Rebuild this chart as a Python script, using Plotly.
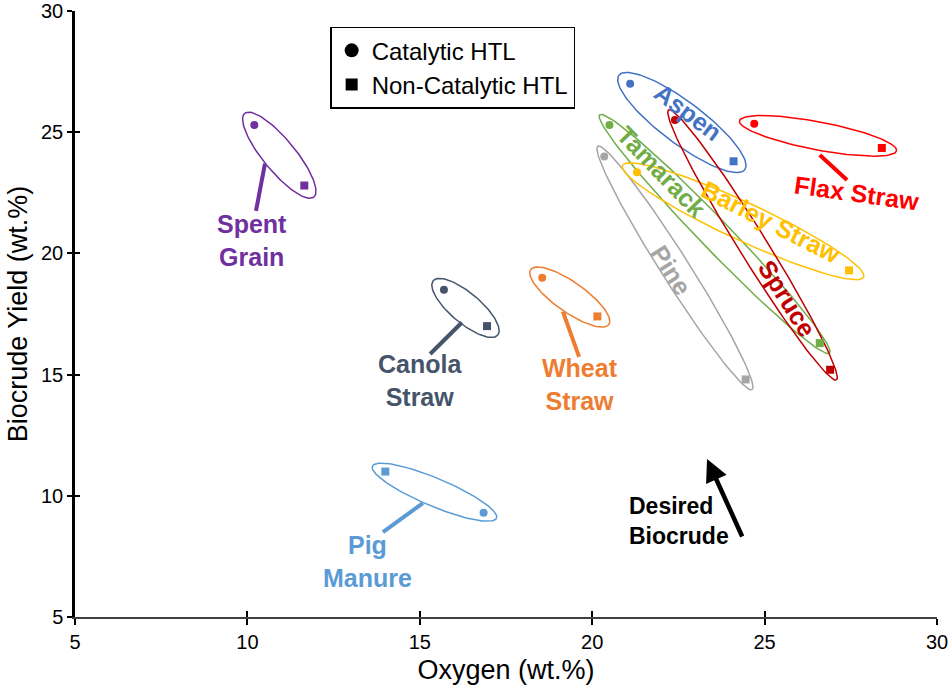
import numpy as np
import plotly.graph_objects as go

# ---------------- data ----------------
feedstocks = ["Spent Grain", "Canola Straw", "Wheat Straw", "Pig Manure", "Aspen",
              "Tamarack", "Pine", "Barley Straw", "Spruce", "Flax Straw"]
cat_oxygen = [10.2, 15.7, 18.55, 16.85, 21.1, 20.5, 20.35, 21.3, 22.4, 24.7]
cat_yield = [25.3, 18.5, 19.0, 9.3, 27.0, 25.3, 24.0, 23.35, 25.5, 25.35]
noncat_oxygen = [11.65, 16.95, 20.15, 14.0, 24.1, 26.6, 24.45, 27.45, 26.9, 28.4]
noncat_yield = [22.8, 17.0, 17.4, 11.0, 23.8, 16.3, 14.8, 19.3, 15.2, 24.35]

colors = ["#7030A0", "#44546A", "#ED7D31", "#5B9BD5", "#4472C4",
          "#70AD47", "#A5A5A5", "#FFC000", "#C00000", "#FF0000"]

x_ticks = [5, 10, 15, 20, 25, 30]
y_ticks = [5, 10, 15, 20, 25, 30]

# ---------------- layout constants ----------------
W, H = 951, 692
ML, MR, MT, MB = 75, 14, 11, 75
XR = [5, 30]
YR = [5, 30]
pw = W - ML - MR
ph = H - MT - MB
sx = pw / (XR[1] - XR[0])
sy = ph / (YR[1] - YR[0])

# ellipse styling: (extra length px beyond points, half-width px)
ell_style = [(15, 16), (14, 15), (14, 15), (14, 14), (14, 21),
             (14, 15), (12, 14), (16, 19), (12, 14), (15, 14)]

# label styling: text, x, y, angle
labels = [
    ("Spent<br>Grain", 10.13, 20.55, 0),
    ("Canola<br>Straw", 15.0, 14.74, 0),
    ("Wheat<br>Straw", 19.65, 14.61, 0),
    ("Pig<br>Manure", 13.47, 7.31, 0),
    ("Aspen", 22.78, 25.83, 37),
    ("Tamarack", 22.02, 23.36, 46),
    ("Pine", 22.29, 19.32, 58),
    ("Barley Straw", 25.19, 21.3, 27),
    ("Spruce", 25.65, 18.16, 58),
    ("Flax Straw", 27.68, 22.49, 8),
]
# leader lines (x0, y0, x1, y1) for labelled groups
leaders = {
    0: (10.51, 23.7, 10.25, 21.75),
    1: (16.22, 17.15, 15.3, 15.85),
    2: (19.15, 17.6, 19.62, 15.73),
    3: (15.09, 9.7, 13.93, 8.5),
    9: (26.6, 24.06, 27.39, 23.03),
}


def ellipse(x1, y1, x2, y2, pad, hw, n=120):
    u1, v1 = (x1 - XR[0]) * sx, (y1 - YR[0]) * sy
    u2, v2 = (x2 - XR[0]) * sx, (y2 - YR[0]) * sy
    cu, cv = (u1 + u2) / 2, (v1 + v2) / 2
    du, dv = u2 - u1, v2 - v1
    d = np.hypot(du, dv)
    eu, ev = du / d, dv / d
    nu, nv = -ev, eu
    L = d / 2 + pad
    t = np.linspace(0, 2 * np.pi, n)
    uu = cu + L * np.cos(t) * eu + hw * np.sin(t) * nu
    vv = cv + L * np.cos(t) * ev + hw * np.sin(t) * nv
    return uu / sx + XR[0], vv / sy + YR[0]


fig = go.Figure()

for i, name in enumerate(feedstocks):
    pad, hw = ell_style[i]
    ex, ey = ellipse(cat_oxygen[i], cat_yield[i], noncat_oxygen[i], noncat_yield[i], pad, hw)
    fig.add_trace(go.Scatter(x=ex, y=ey, mode="lines", line=dict(color=colors[i], width=1.5),
                             showlegend=False, hoverinfo="skip"))

fig.add_trace(go.Scatter(x=cat_oxygen, y=cat_yield, mode="markers",
                         marker=dict(symbol="circle", size=8, color=colors),
                         showlegend=False, text=feedstocks))
fig.add_trace(go.Scatter(x=noncat_oxygen, y=noncat_yield, mode="markers",
                         marker=dict(symbol="square", size=8, color=colors),
                         showlegend=False, text=feedstocks))

# legend entries
fig.add_trace(go.Scatter(x=[None], y=[None], mode="markers", name="Catalytic HTL",
                         marker=dict(symbol="circle", size=14, color="black")))
fig.add_trace(go.Scatter(x=[None], y=[None], mode="markers", name="Non-Catalytic HTL",
                         marker=dict(symbol="square", size=12, color="black")))

# invisible trace for inner-tick overlay axes
fig.add_trace(go.Scatter(x=[None], y=[None], xaxis="x2", yaxis="y2", showlegend=False,
                         hoverinfo="skip"))

annotations = []
for i, (txt, lx, ly, ang) in enumerate(labels):
    annotations.append(dict(x=lx, y=ly, xref="x", yref="y", text="<b>%s</b>" % txt,
                            showarrow=False, textangle=ang,
                            font=dict(family="Liberation Sans, Arial", size=25, color=colors[i]),
                            align="center"))

annotations.append(dict(x=21.0, y=8.96, xref="x", yref="y", text="<b>Desired<br>Biocrude</b>",
                        showarrow=False, xanchor="left", align="left",
                        font=dict(family="Liberation Sans, Arial", size=23, color="black")))
annotations.append(dict(x=23.33, y=11.52, ax=24.37, ay=8.26, xref="x", yref="y",
                        axref="x", ayref="y", text="", showarrow=True, arrowhead=2,
                        arrowsize=1.0, arrowwidth=4.5, arrowcolor="black"))

shapes = []
for i, (x0, y0, x1, y1) in leaders.items():
    shapes.append(dict(type="line", x0=x0, y0=y0, x1=x1, y1=y1, xref="x", yref="y",
                       line=dict(color=colors[i], width=4)))

fig.update_layout(
    width=W, height=H,
    margin=dict(l=ML, r=MR, t=MT, b=MB, autoexpand=False),
    plot_bgcolor="white", paper_bgcolor="white",
    font=dict(family="Liberation Sans, Arial", color="black"),
    xaxis=dict(range=XR, tickvals=x_ticks, showgrid=False, zeroline=False, automargin=False,
               showline=True, linecolor="#404040", linewidth=1.5,
               ticks="outside", ticklen=6, tickwidth=2, tickcolor="black",
               tickfont=dict(size=20),
               title=dict(text="Oxygen (wt.%)", font=dict(size=27), standoff=8)),
    yaxis=dict(range=YR, tickvals=y_ticks, showgrid=False, zeroline=False, automargin=False,
               showline=True, linecolor="black", linewidth=2.5,
               ticks="outside", ticklen=5, tickwidth=2, tickcolor="black",
               tickfont=dict(size=20),
               title=dict(text="Biocrude Yield (wt.%)", font=dict(size=27), standoff=6)),
    xaxis2=dict(range=XR, tickvals=x_ticks, overlaying="x", anchor="y2", side="bottom",
                showgrid=False, zeroline=False, showline=False, showticklabels=False,
                automargin=False, ticks="inside", ticklen=6, tickwidth=2, tickcolor="black"),
    yaxis2=dict(range=YR, tickvals=y_ticks, overlaying="y", anchor="x2", side="left",
                showgrid=False, zeroline=False, showline=False, showticklabels=False,
                automargin=False, ticks="inside", ticklen=5, tickwidth=2, tickcolor="black"),
    legend=dict(x=0.296, y=0.974, xanchor="left", yanchor="top",
                bordercolor="black", borderwidth=1.5, bgcolor="white",
                font=dict(size=24, color="black"), itemsizing="trace",
                tracegroupgap=0),
    annotations=annotations,
    shapes=shapes,
)

fig.write_html("out.html", config={"displayModeBar": False},
               post_script="document.body.style.margin='0';document.body.style.overflow='hidden';")
